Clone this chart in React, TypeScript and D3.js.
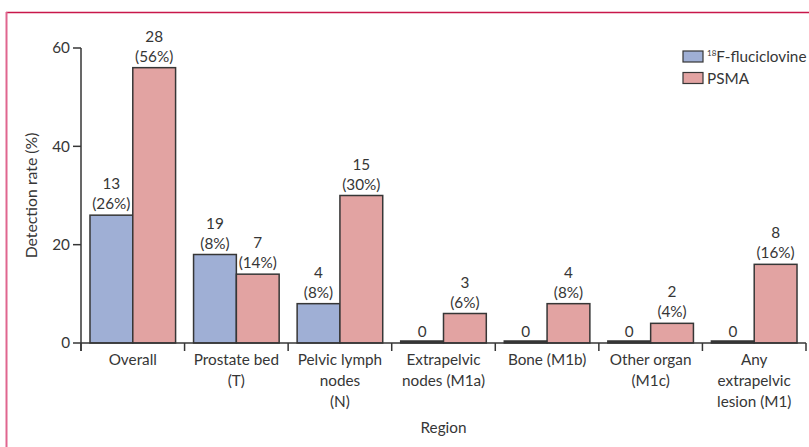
import * as d3 from "d3";

const categories: string[][] = [
  ["Overall"],
  ["Prostate bed", "(T)"],
  ["Pelvic lymph", "nodes", "(N)"],
  ["Extrapelvic", "nodes (M1a)"],
  ["Bone (M1b)"],
  ["Other organ", "(M1c)"],
  ["Any", "extrapelvic", "lesion (M1)"],
];

const seriesNames = ["fluciclovine", "PSMA"];

// detection rate (%)
const fluciclovineRates = [26, 18, 8, 0, 0, 0, 0];
const psmaRates = [56, 14, 30, 6, 8, 4, 16];

// labels printed above the bars, as in the figure
const fluciclovineLabels = [["13", "(26%)"], ["19", "(8%)"], ["4", "(8%)"], ["0"], ["0"], ["0"], ["0"]];
const psmaLabels = [["28", "(56%)"], ["7", "(14%)"], ["15", "(30%)"], ["3", "(6%)"], ["4", "(8%)"], ["2", "(4%)"], ["8", "(16%)"]];

const yTicks = [0, 20, 40, 60];

const colors = ["#9fafd5", "#e2a3a2"];
const ink = "#363636";
const font = "Lato, 'Noto Sans', sans-serif";
const fs = 15.3;

const W = 809;
const H = 447;
const margin = { left: 81, right: 3, top: 48, bottom: 104 };

export default function App() {
  const x0 = d3
    .scaleBand<number>()
    .domain(categories.map((_, i) => i))
    .range([margin.left, W - margin.right])
    .paddingInner(0)
    .paddingOuter(0);

  const x1 = d3
    .scaleBand<string>()
    .domain(seriesNames)
    .range([0, x0.bandwidth()])
    .paddingOuter(0.21);

  const y = d3
    .scaleLinear()
    .domain([0, 60])
    .range([H - margin.bottom, margin.top]);

  const series = [
    { name: seriesNames[0], values: fluciclovineRates, labels: fluciclovineLabels },
    { name: seriesNames[1], values: psmaRates, labels: psmaLabels },
  ];

  const y0 = y(0);
  const bandEdges = categories.map((_, i) => x0(i)!).concat([x0.range()[1]]);

  return (
    <svg
      width={W}
      height={H}
      style={{ position: "absolute", left: 0, top: 0, background: "#fff" }}
      fontFamily={font}
    >
      {/* frame */}
      <line x1={6} x2={W} y1={12.5} y2={12.5} stroke="#c8174a" strokeWidth={1.5} />
      <line x1={6.5} x2={6.5} y1={12} y2={H} stroke="#e0668f" strokeWidth={2} />

      {/* bars */}
      {series.map((s, si) =>
        s.values.map((v, i) => {
          const bx = x0(i)! + x1(s.name)!;
          const bw = x1.bandwidth();
          const top = y(v);
          const h = Math.max(y0 - top, 2);
          const lines = s.labels[i];
          return (
            <g key={`${s.name}-${i}`}>
              <rect
                x={bx}
                y={y0 - h}
                width={bw}
                height={h}
                fill={v === 0 ? ink : colors[si]}
                stroke={ink}
                strokeWidth={1.5}
              />
              {lines.map((t, li) => (
                <text
                  key={li}
                  x={bx + bw / 2}
                  y={top - 6 - (lines.length - 1 - li) * 20}
                  textAnchor="middle"
                  fontSize={fs}
                  fill={ink}
                >
                  {t}
                </text>
              ))}
            </g>
          );
        })
      )}

      {/* y axis */}
      <line x1={margin.left} x2={margin.left} y1={y(60)} y2={y0 + 8} stroke={ink} strokeWidth={1.5} />
      {yTicks.map((t) => (
        <g key={t}>
          <line x1={margin.left - 8} x2={margin.left} y1={y(t)} y2={y(t)} stroke={ink} strokeWidth={1.5} />
          <text x={margin.left - 11} y={y(t)} dy="0.35em" textAnchor="end" fontSize={fs} fill={ink}>
            {t}
          </text>
        </g>
      ))}
      <text
        transform={`translate(31,${(y(60) + y0) / 2}) rotate(-90)`}
        textAnchor="middle"
        dy="0.35em"
        fontSize={15.8}
        fill={ink}
      >
        Detection rate (%)
      </text>

      {/* x axis */}
      <line x1={margin.left} x2={x0.range()[1]} y1={y0} y2={y0} stroke={ink} strokeWidth={1.5} />
      {bandEdges.map((ex, i) => (
        <line key={i} x1={ex} x2={ex} y1={y0} y2={y0 + 8} stroke={ink} strokeWidth={1.5} />
      ))}
      {categories.map((lines, i) => (
        <text key={i} textAnchor="middle" fontSize={fs} fill={ink}>
          {lines.map((l, li) => (
            <tspan key={li} x={x0(i)! + x0.bandwidth() / 2} y={y0 + 22 + li * 21}>
              {l}
            </tspan>
          ))}
        </text>
      ))}
      <text x={(margin.left + x0.range()[1]) / 2} y={433} textAnchor="middle" fontSize={fs} fill={ink}>
        Region
      </text>

      {/* legend */}
      {series.map((s, si) => (
        <g key={s.name} transform={`translate(683,${51 + si * 21.5})`}>
          <rect x={0} y={0} width={20} height={11} fill={colors[si]} stroke={ink} strokeWidth={1.2} />
          <text x={24} y={11} fontSize={fs} fill={ink}>
            {si === 0 ? (
              <>
                <tspan fontSize={8} dy={-6}>18</tspan>
                <tspan dy={6}>F-fluciclovine</tspan>
              </>
            ) : (
              "PSMA"
            )}
          </text>
        </g>
      ))}
    </svg>
  );
}
